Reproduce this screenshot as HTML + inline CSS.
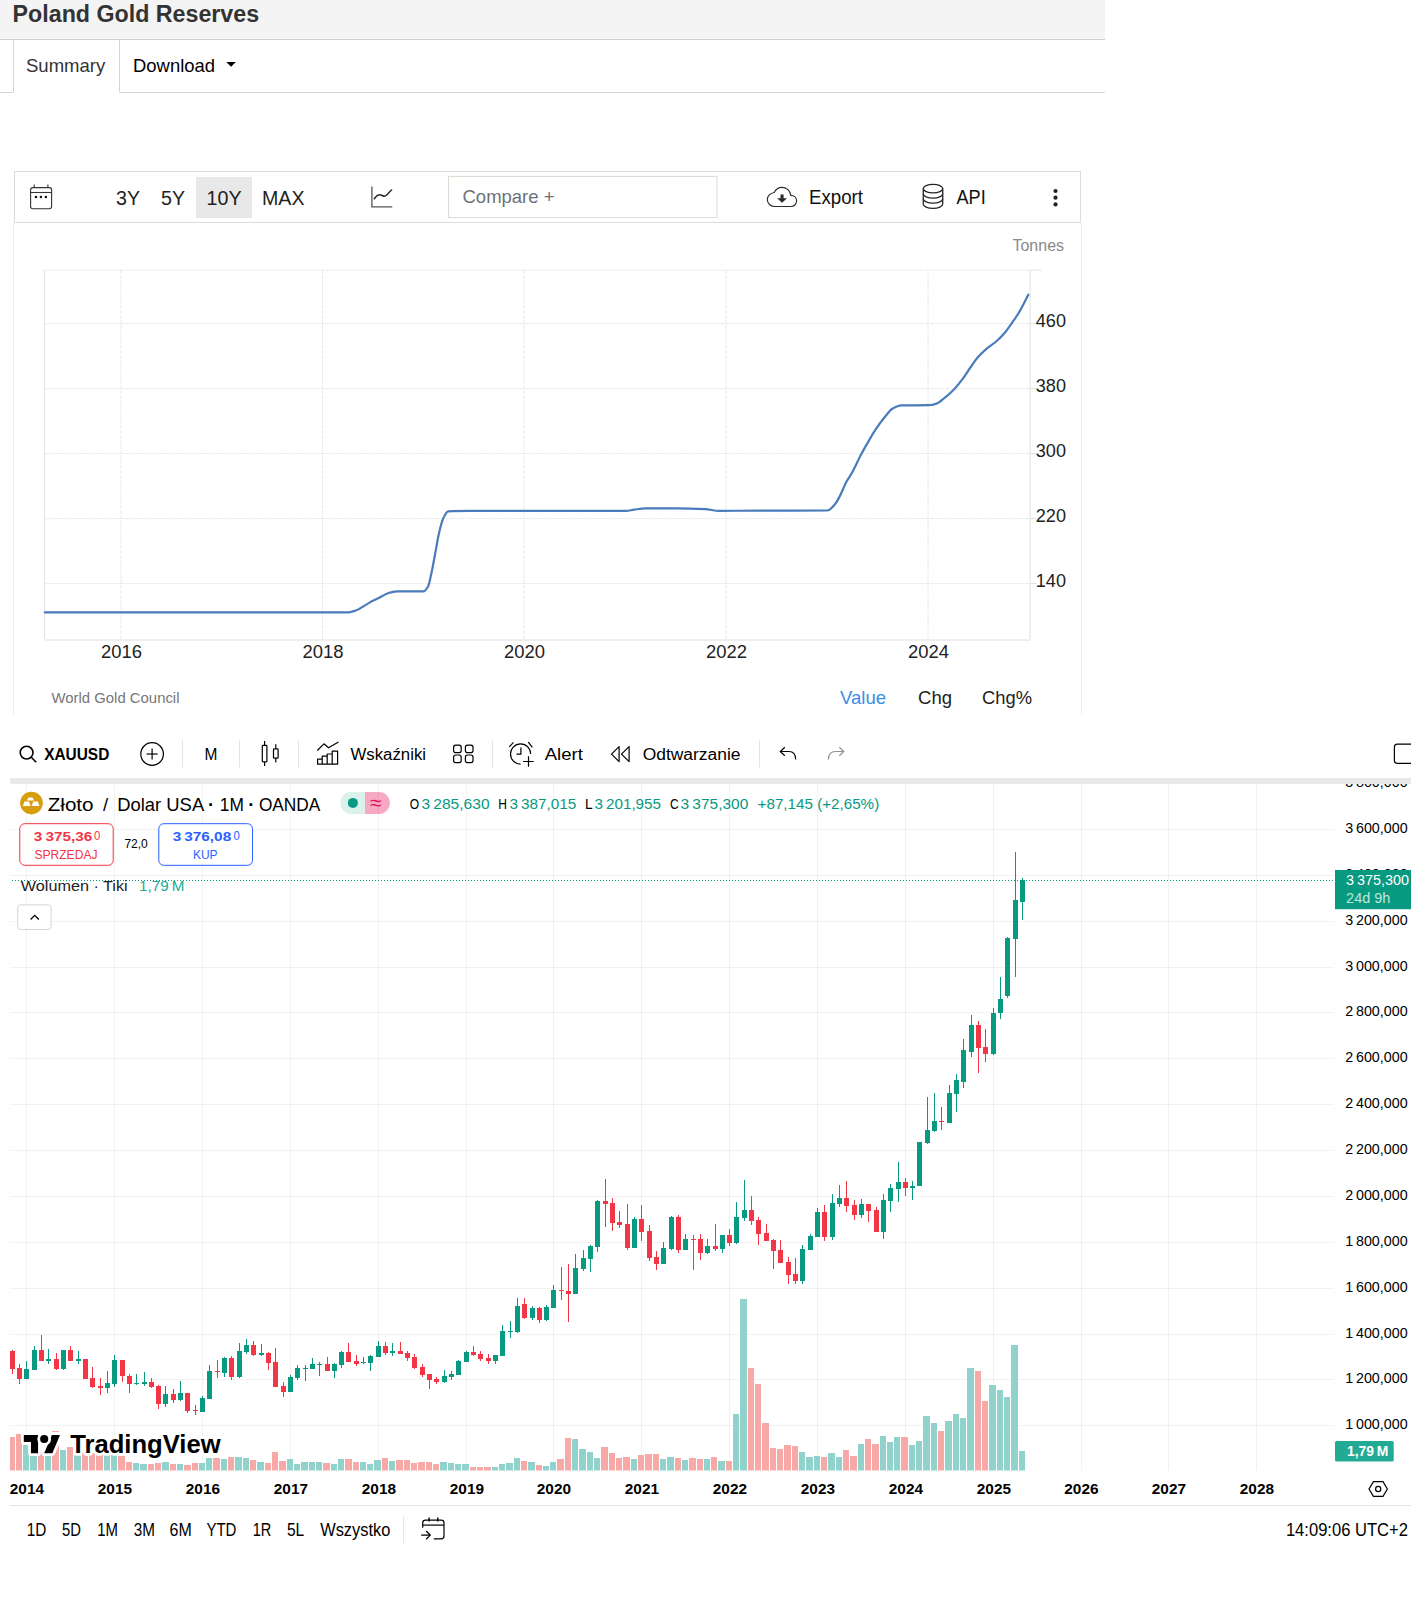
<!DOCTYPE html>
<html><head><meta charset="utf-8"><title>Poland Gold Reserves</title>
<style>html,body{margin:0;padding:0;background:#fff;overflow:hidden}svg{display:block}</style>
</head><body>
<svg width="1411" height="1599" viewBox="0 0 1411 1599">
<rect x="0" y="0" width="1105" height="39.5" fill="#f4f4f4"/>
<line x1="0" y1="39.5" x2="1105" y2="39.5" stroke="#cfcfcf" stroke-width="1"/>
<text x="12.6" y="21.8" font-size="23" fill="#333" font-weight="bold" text-anchor="start" font-family="'Liberation Sans', Arial, sans-serif" textLength="246.5" lengthAdjust="spacingAndGlyphs">Poland Gold Reserves</text>
<line x1="13.5" y1="40" x2="13.5" y2="92" stroke="#d5d5d5" stroke-width="1"/>
<line x1="119.5" y1="40" x2="119.5" y2="92" stroke="#d5d5d5" stroke-width="1"/>
<line x1="0" y1="92.5" x2="13.5" y2="92.5" stroke="#d5d5d5" stroke-width="1"/>
<line x1="119.5" y1="92.5" x2="1105" y2="92.5" stroke="#d5d5d5" stroke-width="1"/>
<text x="26" y="71.7" font-size="18.5" fill="#333" font-weight="normal" text-anchor="start" font-family="'Liberation Sans', Arial, sans-serif" textLength="79.3" lengthAdjust="spacingAndGlyphs">Summary</text>
<text x="133" y="71.9" font-size="18.5" fill="#000" font-weight="normal" text-anchor="start" font-family="'Liberation Sans', Arial, sans-serif" textLength="82" lengthAdjust="spacingAndGlyphs">Download</text>
<path d="M226.3 62 L235.8 62 L231.05 66.8 Z" fill="#000"/>
<rect x="14.5" y="171.5" width="1066" height="51" fill="none" stroke="#dcdcdc" stroke-width="1"/>
<line x1="13.5" y1="223" x2="13.5" y2="714.5" stroke="#ececec" stroke-width="1"/>
<line x1="1081.5" y1="223" x2="1081.5" y2="714.5" stroke="#ececec" stroke-width="1"/>
<g fill="none" stroke="#333" stroke-width="1.1"><rect x="30.6" y="187.6" width="21" height="21.2" rx="2.2"/><line x1="30.6" y1="192.5" x2="51.6" y2="192.5"/><line x1="34.2" y1="184.4" x2="34.2" y2="187.6"/><line x1="47.9" y1="184.4" x2="47.9" y2="187.6"/></g>
<g fill="#111"><circle cx="36" cy="197" r="1.3"/><circle cx="40.9" cy="197" r="1.3"/><circle cx="45.9" cy="197" r="1.3"/></g>
<rect x="196" y="177" width="56" height="41" fill="#e8e8e8"/>
<text x="116" y="205.3" font-size="20" fill="#222" font-weight="normal" text-anchor="start" font-family="'Liberation Sans', Arial, sans-serif" textLength="24" lengthAdjust="spacingAndGlyphs">3Y</text>
<text x="161" y="205.3" font-size="20" fill="#222" font-weight="normal" text-anchor="start" font-family="'Liberation Sans', Arial, sans-serif" textLength="24" lengthAdjust="spacingAndGlyphs">5Y</text>
<text x="206.5" y="205.3" font-size="20" fill="#222" font-weight="normal" text-anchor="start" font-family="'Liberation Sans', Arial, sans-serif" textLength="35" lengthAdjust="spacingAndGlyphs">10Y</text>
<text x="262" y="205.3" font-size="20" fill="#222" font-weight="normal" text-anchor="start" font-family="'Liberation Sans', Arial, sans-serif" textLength="42.5" lengthAdjust="spacingAndGlyphs">MAX</text>
<g fill="none" stroke="#555" stroke-width="1.3"><polyline points="371.9,186.5 371.9,206.8 392.3,206.8"/></g><path d="M374.3 198.8 C375.8 196.2 377.5 194.9 379.6 194.7 C381.6 194.6 382.8 196.4 384.6 196.3 C386.8 196.1 388.6 192.3 391.6 190" fill="none" stroke="#2a2a2a" stroke-width="1.5" stroke-linecap="round"/>
<rect x="448.5" y="176.5" width="268.5" height="41" fill="#fff" stroke="#dedbd5" stroke-width="1"/>
<text x="462.5" y="203" font-size="19" fill="#6c7179" font-weight="normal" text-anchor="start" font-family="'Liberation Sans', Arial, sans-serif" textLength="92" lengthAdjust="spacingAndGlyphs">Compare +</text>
<path d="M775 206.5 H791 C794.3 206.5 796.6 203.8 796.6 200.6 C796.6 197.6 794.2 195.3 790.8 195.3 C790 190.4 786.4 187.3 781.8 187.3 C778.3 187.3 775.7 189.4 774.3 192.5 C770.4 193.1 767.3 196 767.3 199.6 C767.3 203.4 770.6 206.5 775 206.5 Z" fill="none" stroke="#2a2a2a" stroke-width="1.15"/>
<path d="M780.5 194.4 H783.6 V198.3 H787 L782.05 202.8 L777.1 198.3 H780.5 Z" fill="#2a2a2a"/>
<text x="809" y="204.2" font-size="19.5" fill="#111" font-weight="normal" text-anchor="start" font-family="'Liberation Sans', Arial, sans-serif" textLength="54" lengthAdjust="spacingAndGlyphs">Export</text>
<g fill="none" stroke="#262626" stroke-width="1.3"><ellipse cx="933" cy="188.6" rx="9.75" ry="4.3"/><path d="M923.25 188.6 V204 M942.75 188.6 V204"/><path d="M923.25 193.8 A9.75 4.3 0 0 0 942.75 193.8"/><path d="M923.25 198.8 A9.75 4.3 0 0 0 942.75 198.8"/><path d="M923.25 204.0 A9.75 4.3 0 0 0 942.75 204.0"/></g>
<text x="956.5" y="204.2" font-size="19.5" fill="#111" font-weight="normal" text-anchor="start" font-family="'Liberation Sans', Arial, sans-serif" textLength="29.2" lengthAdjust="spacingAndGlyphs">API</text>
<g fill="#222"><circle cx="1055.5" cy="191" r="2.1"/><circle cx="1055.5" cy="197.7" r="2.1"/><circle cx="1055.5" cy="204.4" r="2.1"/></g>
<text x="1064" y="251" font-size="16" fill="#8a8a8a" font-weight="normal" text-anchor="end" font-family="'Liberation Sans', Arial, sans-serif" textLength="51.5" lengthAdjust="spacingAndGlyphs">Tonnes</text>
<line x1="45.3" y1="270.1" x2="1030" y2="270.1" stroke="#e9e9e9" stroke-width="1" stroke-dasharray="4,1"/>
<line x1="45.3" y1="323.6" x2="1030" y2="323.6" stroke="#e9e9e9" stroke-width="1" stroke-dasharray="4,1"/>
<line x1="45.3" y1="388.6" x2="1030" y2="388.6" stroke="#e9e9e9" stroke-width="1" stroke-dasharray="4,1"/>
<line x1="45.3" y1="453.6" x2="1030" y2="453.6" stroke="#e9e9e9" stroke-width="1" stroke-dasharray="4,1"/>
<line x1="45.3" y1="518.6" x2="1030" y2="518.6" stroke="#e9e9e9" stroke-width="1" stroke-dasharray="4,1"/>
<line x1="45.3" y1="583.6" x2="1030" y2="583.6" stroke="#e9e9e9" stroke-width="1" stroke-dasharray="4,1"/>
<line x1="121" y1="270" x2="121" y2="639" stroke="#e8e8e8" stroke-width="1" stroke-dasharray="4,1"/>
<line x1="322.5" y1="270" x2="322.5" y2="639" stroke="#e8e8e8" stroke-width="1" stroke-dasharray="4,1"/>
<line x1="524" y1="270" x2="524" y2="639" stroke="#e8e8e8" stroke-width="1" stroke-dasharray="4,1"/>
<line x1="726" y1="270" x2="726" y2="639" stroke="#e8e8e8" stroke-width="1" stroke-dasharray="4,1"/>
<line x1="928" y1="270" x2="928" y2="639" stroke="#e8e8e8" stroke-width="1" stroke-dasharray="4,1"/>
<line x1="44.5" y1="270" x2="44.5" y2="639" stroke="#e4e4e4" stroke-width="1"/>
<line x1="45" y1="640" x2="1030" y2="640" stroke="#e9e9e9" stroke-width="1.6"/>
<line x1="1030" y1="270" x2="1030" y2="639.5" stroke="#e0e0e0" stroke-width="1"/>
<line x1="1030" y1="270.1" x2="1041.6" y2="270.1" stroke="#e0e0e0" stroke-width="1"/>
<line x1="1030" y1="323.6" x2="1036.5" y2="323.6" stroke="#e0e0e0" stroke-width="1"/>
<line x1="1030" y1="388.6" x2="1036.5" y2="388.6" stroke="#e0e0e0" stroke-width="1"/>
<line x1="1030" y1="453.6" x2="1036.5" y2="453.6" stroke="#e0e0e0" stroke-width="1"/>
<line x1="1030" y1="518.6" x2="1036.5" y2="518.6" stroke="#e0e0e0" stroke-width="1"/>
<line x1="1030" y1="583.6" x2="1036.5" y2="583.6" stroke="#e0e0e0" stroke-width="1"/>
<text x="1035.8" y="326.8" font-size="18.5" fill="#222" font-weight="normal" text-anchor="start" font-family="'Liberation Sans', Arial, sans-serif" textLength="30.2" lengthAdjust="spacingAndGlyphs">460</text>
<text x="1035.8" y="391.8" font-size="18.5" fill="#222" font-weight="normal" text-anchor="start" font-family="'Liberation Sans', Arial, sans-serif" textLength="30.2" lengthAdjust="spacingAndGlyphs">380</text>
<text x="1035.8" y="456.8" font-size="18.5" fill="#222" font-weight="normal" text-anchor="start" font-family="'Liberation Sans', Arial, sans-serif" textLength="30.2" lengthAdjust="spacingAndGlyphs">300</text>
<text x="1035.8" y="521.8000000000001" font-size="18.5" fill="#222" font-weight="normal" text-anchor="start" font-family="'Liberation Sans', Arial, sans-serif" textLength="30.2" lengthAdjust="spacingAndGlyphs">220</text>
<text x="1035.8" y="586.8000000000001" font-size="18.5" fill="#222" font-weight="normal" text-anchor="start" font-family="'Liberation Sans', Arial, sans-serif" textLength="30.2" lengthAdjust="spacingAndGlyphs">140</text>
<text x="121.5" y="658" font-size="18.5" fill="#222" font-weight="normal" text-anchor="middle" font-family="'Liberation Sans', Arial, sans-serif" textLength="41" lengthAdjust="spacingAndGlyphs">2016</text>
<text x="323.0" y="658" font-size="18.5" fill="#222" font-weight="normal" text-anchor="middle" font-family="'Liberation Sans', Arial, sans-serif" textLength="41" lengthAdjust="spacingAndGlyphs">2018</text>
<text x="524.5" y="658" font-size="18.5" fill="#222" font-weight="normal" text-anchor="middle" font-family="'Liberation Sans', Arial, sans-serif" textLength="41" lengthAdjust="spacingAndGlyphs">2020</text>
<text x="726.5" y="658" font-size="18.5" fill="#222" font-weight="normal" text-anchor="middle" font-family="'Liberation Sans', Arial, sans-serif" textLength="41" lengthAdjust="spacingAndGlyphs">2022</text>
<text x="928.5" y="658" font-size="18.5" fill="#222" font-weight="normal" text-anchor="middle" font-family="'Liberation Sans', Arial, sans-serif" textLength="41" lengthAdjust="spacingAndGlyphs">2024</text>
<text x="51.5" y="702.6" font-size="15" fill="#777" font-weight="normal" text-anchor="start" font-family="'Liberation Sans', Arial, sans-serif" textLength="128" lengthAdjust="spacingAndGlyphs">World Gold Council</text>
<text x="840" y="703.6" font-size="19" fill="#3a8ee6" font-weight="normal" text-anchor="start" font-family="'Liberation Sans', Arial, sans-serif" textLength="46" lengthAdjust="spacingAndGlyphs">Value</text>
<text x="918" y="703.6" font-size="19" fill="#222" font-weight="normal" text-anchor="start" font-family="'Liberation Sans', Arial, sans-serif" textLength="34" lengthAdjust="spacingAndGlyphs">Chg</text>
<text x="982" y="703.6" font-size="19" fill="#222" font-weight="normal" text-anchor="start" font-family="'Liberation Sans', Arial, sans-serif" textLength="50" lengthAdjust="spacingAndGlyphs">Chg%</text>
<path d="M44.8,612.3 C146.13,612.30 247.47,612.30 348.8,612.3 C351.13,612.30 353.47,611.30 355.8,610.5 C360.10,609.03 364.40,605.40 368.7,603.1 C371.67,601.51 374.63,600.09 377.6,598.6 C381.57,596.61 385.53,593.64 389.5,592.7 C392.17,592.07 394.83,591.40 397.5,591.4 C406.10,591.40 414.70,591.40 423.3,591.4 C424.93,591.40 426.57,589.07 428.2,586.2 C429.20,584.44 430.20,578.77 431.2,574.3 C432.53,568.34 433.87,560.52 435.2,553.5 C436.50,546.65 437.80,538.18 439.1,532.7 C440.43,527.08 441.77,521.64 443.1,518.8 C444.77,515.26 446.43,511.38 448.1,511.3 C455.37,510.97 462.63,510.90 469.9,510.9 C521.93,510.90 573.97,510.90 626,510.9 C628.67,510.90 631.33,510.05 634,509.7 C637.80,509.20 641.60,508.43 645.4,508.4 C655.93,508.32 666.47,508.30 677,508.3 C686.47,508.30 695.93,508.69 705.4,509.2 C709.93,509.45 714.47,510.90 719,510.9 C732.67,510.90 746.33,510.64 760,510.6 C782.47,510.54 804.93,510.59 827.4,510.5 C830.20,510.49 833.00,506.50 835.8,503.1 C837.13,501.48 838.47,498.73 839.8,496.2 C842.10,491.83 844.40,485.49 846.7,481.3 C848.37,478.26 850.03,476.23 851.7,473.3 C855.00,467.50 858.30,459.66 861.6,453.5 C864.23,448.58 866.87,444.08 869.5,439.6 C871.50,436.20 873.50,432.70 875.5,429.7 C878.80,424.75 882.10,420.25 885.4,416.3 C887.70,413.54 890.00,410.12 892.3,408.8 C895.30,407.08 898.30,405.45 901.3,405.4 C910.53,405.24 919.77,405.36 929,405.2 C931.50,405.16 934.00,404.41 936.5,403.6 C939.20,402.72 941.90,400.04 944.6,397.9 C947.87,395.31 951.13,392.31 954.4,388.9 C957.10,386.08 959.80,382.78 962.5,379.2 C965.23,375.57 967.97,370.92 970.7,367 C972.87,363.90 975.03,360.53 977.2,358 C979.90,354.85 982.60,352.28 985.3,349.9 C989.10,346.54 992.90,344.37 996.7,341 C999.40,338.60 1002.10,335.96 1004.8,332.8 C1006.97,330.26 1009.13,327.00 1011.3,323.9 C1014.00,320.03 1016.70,316.23 1019.4,311.7 C1022.40,306.67 1025.40,300.30 1028.4,294.6" fill="none" stroke="#4a7bbb" stroke-width="2.2" stroke-linejoin="round" stroke-linecap="round"/>
<g fill="none" stroke="#000000" stroke-width="1.6"><circle cx="26.6" cy="752.6" r="6.4"/><line x1="31.3" y1="757.3" x2="36.2" y2="762.2"/></g>
<text x="44.2" y="759.6" font-size="16.5" fill="#000000" font-weight="bold" text-anchor="start" font-family="'Liberation Sans', Arial, sans-serif" textLength="65.1" lengthAdjust="spacingAndGlyphs">XAUUSD</text>
<g fill="none" stroke="#000000" stroke-width="1.2"><circle cx="152.1" cy="754" r="11.3"/><line x1="146.6" y1="754" x2="157.6" y2="754"/><line x1="152.1" y1="748.5" x2="152.1" y2="759.5"/></g>
<line x1="182.5" y1="740.5" x2="182.5" y2="767.5" stroke="#e0e3eb" stroke-width="1"/>
<line x1="239.5" y1="740.5" x2="239.5" y2="767.5" stroke="#e0e3eb" stroke-width="1"/>
<line x1="298.5" y1="740.5" x2="298.5" y2="767.5" stroke="#e0e3eb" stroke-width="1"/>
<line x1="492.5" y1="740.5" x2="492.5" y2="767.5" stroke="#e0e3eb" stroke-width="1"/>
<line x1="759.5" y1="740.5" x2="759.5" y2="767.5" stroke="#e0e3eb" stroke-width="1"/>
<text x="204.6" y="760" font-size="16.5" fill="#000000" font-weight="normal" text-anchor="start" font-family="'Liberation Sans', Arial, sans-serif" textLength="12.9" lengthAdjust="spacingAndGlyphs">M</text>
<g fill="none" stroke="#000000" stroke-width="1.2"><rect x="262.3" y="745.3" width="4.6" height="16.6" rx="0.8"/><line x1="264.6" y1="741" x2="264.6" y2="745.3"/><line x1="264.6" y1="761.9" x2="264.6" y2="766"/><rect x="273.5" y="748.8" width="4.6" height="9.4" rx="0.8"/><line x1="275.8" y1="744.2" x2="275.8" y2="748.8"/><line x1="275.8" y1="758.2" x2="275.8" y2="762.5"/></g>
<g fill="none" stroke="#000000" stroke-width="1.2" stroke-linejoin="round"><polyline points="317.3,750.5 324,743.8 328.5,747.8 338.5,742"/><path d="M317.6 764.2 V759.2 H322.2 V764.2 Z M322.2 764.2 V756.2 H327.2 V764.2 M327.2 764.2 V754 H332.2 V764.2 M332.2 764.2 V751.2 H337.6 V764.2 H317.6"/></g>
<text x="350.5" y="760" font-size="16" fill="#000000" font-weight="normal" text-anchor="start" font-family="'Liberation Sans', Arial, sans-serif" textLength="75.5" lengthAdjust="spacingAndGlyphs">Wskaźniki</text>
<g fill="none" stroke="#000000" stroke-width="1.2"><rect x="453.6" y="745.1" width="7.6" height="7.6" rx="2.2"/><rect x="465.4" y="745.1" width="7.6" height="7.6" rx="2.2"/><rect x="453.6" y="755" width="7.6" height="7.6" rx="2.2"/><rect x="465.4" y="755" width="7.6" height="7.6" rx="2.2"/></g>
<g fill="none" stroke="#000000" stroke-width="1.2"><path d="M520.6 764.1 A10.1 10.1 0 1 1 530.7 754"/><path d="M520.9 747.4 V754.2 H516.5"/><path d="M509.3 746.9 L513.5 742.3"/><path d="M528.3 742.1 L532.4 747.3"/><path d="M528.5 756.3 V766.8 M523 761.5 H533.6"/></g>
<text x="544.7" y="760" font-size="16" fill="#000000" font-weight="normal" text-anchor="start" font-family="'Liberation Sans', Arial, sans-serif" textLength="38.2" lengthAdjust="spacingAndGlyphs">Alert</text>
<g fill="none" stroke="#000000" stroke-width="1.2" stroke-linejoin="round"><path d="M619.1 746.6 L611.5 754.1 L619.1 761.6 Z"/><path d="M629.1 746.6 L621.5 754.1 L629.1 761.6 Z"/></g>
<text x="642.7" y="760" font-size="16" fill="#000000" font-weight="normal" text-anchor="start" font-family="'Liberation Sans', Arial, sans-serif" textLength="97.8" lengthAdjust="spacingAndGlyphs">Odtwarzanie</text>
<g fill="none" stroke="#000000" stroke-width="1.2"><path d="M784.8 747.2 L780.3 751.5 L784.8 755.8"/><path d="M780.3 751.5 H789 C793 751.5 795.7 754.2 795.7 759.6"/></g>
<g fill="none" stroke="#8f9299" stroke-width="1.2"><path d="M839.3 747.2 L843.8 751.5 L839.3 755.8"/><path d="M843.8 751.5 H835.5 C831.3 751.5 828.4 754.2 828.4 759.6"/></g>
<rect x="1394.4" y="744.2" width="24" height="19.2" rx="3" fill="none" stroke="#000000" stroke-width="1.2"/>
<rect x="10" y="778" width="1401" height="6" fill="#e9e9e9"/>
<defs><clipPath id="pane"><rect x="10" y="784" width="1324" height="686.5"/></clipPath><clipPath id="axis"><rect x="1334" y="784" width="80" height="686.5"/></clipPath></defs>
<g clip-path="url(#pane)">
<line x1="10" y1="1425.5" x2="1334" y2="1425.5" stroke="rgba(0,0,0,0.052)" stroke-width="1"/>
<line x1="10" y1="1379.5" x2="1334" y2="1379.5" stroke="rgba(0,0,0,0.052)" stroke-width="1"/>
<line x1="10" y1="1334.5" x2="1334" y2="1334.5" stroke="rgba(0,0,0,0.052)" stroke-width="1"/>
<line x1="10" y1="1288.5" x2="1334" y2="1288.5" stroke="rgba(0,0,0,0.052)" stroke-width="1"/>
<line x1="10" y1="1242.5" x2="1334" y2="1242.5" stroke="rgba(0,0,0,0.052)" stroke-width="1"/>
<line x1="10" y1="1196.5" x2="1334" y2="1196.5" stroke="rgba(0,0,0,0.052)" stroke-width="1"/>
<line x1="10" y1="1150.5" x2="1334" y2="1150.5" stroke="rgba(0,0,0,0.052)" stroke-width="1"/>
<line x1="10" y1="1104.5" x2="1334" y2="1104.5" stroke="rgba(0,0,0,0.052)" stroke-width="1"/>
<line x1="10" y1="1058.5" x2="1334" y2="1058.5" stroke="rgba(0,0,0,0.052)" stroke-width="1"/>
<line x1="10" y1="1012.5" x2="1334" y2="1012.5" stroke="rgba(0,0,0,0.052)" stroke-width="1"/>
<line x1="10" y1="967.5" x2="1334" y2="967.5" stroke="rgba(0,0,0,0.052)" stroke-width="1"/>
<line x1="10" y1="921.5" x2="1334" y2="921.5" stroke="rgba(0,0,0,0.052)" stroke-width="1"/>
<line x1="10" y1="875.5" x2="1334" y2="875.5" stroke="rgba(0,0,0,0.052)" stroke-width="1"/>
<line x1="10" y1="829.5" x2="1334" y2="829.5" stroke="rgba(0,0,0,0.052)" stroke-width="1"/>
<line x1="10" y1="783.5" x2="1334" y2="783.5" stroke="rgba(0,0,0,0.052)" stroke-width="1"/>
<line x1="26.5" y1="783" x2="26.5" y2="1470.5" stroke="rgba(0,0,0,0.052)" stroke-width="1"/>
<line x1="114.5" y1="783" x2="114.5" y2="1470.5" stroke="rgba(0,0,0,0.052)" stroke-width="1"/>
<line x1="202.5" y1="783" x2="202.5" y2="1470.5" stroke="rgba(0,0,0,0.052)" stroke-width="1"/>
<line x1="290.5" y1="783" x2="290.5" y2="1470.5" stroke="rgba(0,0,0,0.052)" stroke-width="1"/>
<line x1="378.5" y1="783" x2="378.5" y2="1470.5" stroke="rgba(0,0,0,0.052)" stroke-width="1"/>
<line x1="466.5" y1="783" x2="466.5" y2="1470.5" stroke="rgba(0,0,0,0.052)" stroke-width="1"/>
<line x1="553.5" y1="783" x2="553.5" y2="1470.5" stroke="rgba(0,0,0,0.052)" stroke-width="1"/>
<line x1="641.5" y1="783" x2="641.5" y2="1470.5" stroke="rgba(0,0,0,0.052)" stroke-width="1"/>
<line x1="729.5" y1="783" x2="729.5" y2="1470.5" stroke="rgba(0,0,0,0.052)" stroke-width="1"/>
<line x1="817.5" y1="783" x2="817.5" y2="1470.5" stroke="rgba(0,0,0,0.052)" stroke-width="1"/>
<line x1="905.5" y1="783" x2="905.5" y2="1470.5" stroke="rgba(0,0,0,0.052)" stroke-width="1"/>
<line x1="993.5" y1="783" x2="993.5" y2="1470.5" stroke="rgba(0,0,0,0.052)" stroke-width="1"/>
<line x1="1081.5" y1="783" x2="1081.5" y2="1470.5" stroke="rgba(0,0,0,0.052)" stroke-width="1"/>
<line x1="1168.5" y1="783" x2="1168.5" y2="1470.5" stroke="rgba(0,0,0,0.052)" stroke-width="1"/>
<line x1="1256.5" y1="783" x2="1256.5" y2="1470.5" stroke="rgba(0,0,0,0.052)" stroke-width="1"/>
<rect x="9" y="1437" width="6" height="34" fill="#f7a9a7"/>
<rect x="16" y="1434" width="6" height="37" fill="#f7a9a7"/>
<rect x="23" y="1445" width="6" height="26" fill="#92d2cc"/>
<rect x="30" y="1445" width="7" height="26" fill="#92d2cc"/>
<rect x="38" y="1452" width="6" height="19" fill="#f7a9a7"/>
<rect x="45" y="1452" width="6" height="19" fill="#92d2cc"/>
<rect x="52" y="1431" width="7" height="40" fill="#f7a9a7"/>
<rect x="60" y="1450" width="6" height="21" fill="#92d2cc"/>
<rect x="67" y="1447" width="6" height="24" fill="#f7a9a7"/>
<rect x="74" y="1453" width="7" height="18" fill="#92d2cc"/>
<rect x="82" y="1452" width="6" height="19" fill="#f7a9a7"/>
<rect x="89" y="1453" width="6" height="18" fill="#f7a9a7"/>
<rect x="96" y="1455" width="7" height="16" fill="#f7a9a7"/>
<rect x="104" y="1454" width="6" height="17" fill="#92d2cc"/>
<rect x="111" y="1455" width="6" height="16" fill="#92d2cc"/>
<rect x="118" y="1456" width="7" height="15" fill="#f7a9a7"/>
<rect x="126" y="1462" width="6" height="9" fill="#f7a9a7"/>
<rect x="133" y="1463" width="6" height="8" fill="#92d2cc"/>
<rect x="140" y="1464" width="7" height="7" fill="#92d2cc"/>
<rect x="148" y="1464" width="6" height="7" fill="#f7a9a7"/>
<rect x="155" y="1463" width="6" height="8" fill="#f7a9a7"/>
<rect x="162" y="1462" width="7" height="9" fill="#92d2cc"/>
<rect x="170" y="1464" width="6" height="7" fill="#f7a9a7"/>
<rect x="177" y="1464" width="6" height="7" fill="#92d2cc"/>
<rect x="184" y="1465" width="7" height="6" fill="#f7a9a7"/>
<rect x="192" y="1463" width="6" height="8" fill="#f7a9a7"/>
<rect x="199" y="1463" width="6" height="8" fill="#92d2cc"/>
<rect x="206" y="1458" width="6" height="13" fill="#92d2cc"/>
<rect x="213" y="1458" width="7" height="13" fill="#f7a9a7"/>
<rect x="221" y="1459" width="6" height="12" fill="#92d2cc"/>
<rect x="228" y="1457" width="6" height="14" fill="#f7a9a7"/>
<rect x="235" y="1457" width="7" height="14" fill="#92d2cc"/>
<rect x="243" y="1458" width="6" height="13" fill="#92d2cc"/>
<rect x="250" y="1460" width="6" height="11" fill="#f7a9a7"/>
<rect x="257" y="1462" width="7" height="9" fill="#92d2cc"/>
<rect x="265" y="1463" width="6" height="8" fill="#f7a9a7"/>
<rect x="272" y="1452" width="6" height="19" fill="#f7a9a7"/>
<rect x="279" y="1461" width="7" height="10" fill="#f7a9a7"/>
<rect x="287" y="1459" width="6" height="12" fill="#92d2cc"/>
<rect x="294" y="1464" width="6" height="7" fill="#92d2cc"/>
<rect x="301" y="1462" width="7" height="9" fill="#92d2cc"/>
<rect x="309" y="1462" width="6" height="9" fill="#92d2cc"/>
<rect x="316" y="1462" width="6" height="9" fill="#92d2cc"/>
<rect x="323" y="1463" width="7" height="8" fill="#f7a9a7"/>
<rect x="331" y="1464" width="6" height="7" fill="#92d2cc"/>
<rect x="338" y="1459" width="6" height="12" fill="#92d2cc"/>
<rect x="345" y="1459" width="7" height="12" fill="#f7a9a7"/>
<rect x="353" y="1462" width="6" height="9" fill="#f7a9a7"/>
<rect x="360" y="1462" width="6" height="9" fill="#92d2cc"/>
<rect x="367" y="1464" width="6" height="7" fill="#92d2cc"/>
<rect x="374" y="1460" width="7" height="11" fill="#92d2cc"/>
<rect x="382" y="1458" width="6" height="13" fill="#f7a9a7"/>
<rect x="389" y="1461" width="6" height="10" fill="#92d2cc"/>
<rect x="396" y="1460" width="7" height="11" fill="#f7a9a7"/>
<rect x="404" y="1460" width="6" height="11" fill="#f7a9a7"/>
<rect x="411" y="1463" width="6" height="8" fill="#f7a9a7"/>
<rect x="418" y="1462" width="7" height="9" fill="#f7a9a7"/>
<rect x="426" y="1462" width="6" height="9" fill="#f7a9a7"/>
<rect x="433" y="1464" width="6" height="7" fill="#f7a9a7"/>
<rect x="440" y="1462" width="7" height="9" fill="#92d2cc"/>
<rect x="448" y="1463" width="6" height="8" fill="#92d2cc"/>
<rect x="455" y="1464" width="6" height="7" fill="#92d2cc"/>
<rect x="462" y="1464" width="7" height="7" fill="#92d2cc"/>
<rect x="470" y="1467" width="6" height="4" fill="#f7a9a7"/>
<rect x="477" y="1467" width="6" height="4" fill="#f7a9a7"/>
<rect x="484" y="1467" width="7" height="4" fill="#f7a9a7"/>
<rect x="492" y="1467" width="6" height="4" fill="#92d2cc"/>
<rect x="499" y="1464" width="6" height="7" fill="#92d2cc"/>
<rect x="506" y="1463" width="7" height="8" fill="#92d2cc"/>
<rect x="514" y="1458" width="6" height="13" fill="#92d2cc"/>
<rect x="521" y="1461" width="6" height="10" fill="#f7a9a7"/>
<rect x="528" y="1462" width="7" height="9" fill="#92d2cc"/>
<rect x="536" y="1465" width="6" height="6" fill="#f7a9a7"/>
<rect x="543" y="1466" width="6" height="5" fill="#92d2cc"/>
<rect x="550" y="1462" width="6" height="9" fill="#92d2cc"/>
<rect x="557" y="1459" width="7" height="12" fill="#f7a9a7"/>
<rect x="565" y="1438" width="6" height="33" fill="#f7a9a7"/>
<rect x="572" y="1439" width="6" height="32" fill="#92d2cc"/>
<rect x="579" y="1449" width="7" height="22" fill="#92d2cc"/>
<rect x="587" y="1452" width="6" height="19" fill="#92d2cc"/>
<rect x="594" y="1458" width="6" height="13" fill="#92d2cc"/>
<rect x="601" y="1447" width="7" height="24" fill="#f7a9a7"/>
<rect x="609" y="1453" width="6" height="18" fill="#f7a9a7"/>
<rect x="616" y="1458" width="6" height="13" fill="#f7a9a7"/>
<rect x="623" y="1457" width="7" height="14" fill="#f7a9a7"/>
<rect x="631" y="1459" width="6" height="12" fill="#92d2cc"/>
<rect x="638" y="1455" width="6" height="16" fill="#f7a9a7"/>
<rect x="645" y="1454" width="7" height="17" fill="#f7a9a7"/>
<rect x="653" y="1454" width="6" height="17" fill="#f7a9a7"/>
<rect x="660" y="1459" width="6" height="12" fill="#92d2cc"/>
<rect x="667" y="1457" width="7" height="14" fill="#92d2cc"/>
<rect x="675" y="1458" width="6" height="13" fill="#f7a9a7"/>
<rect x="682" y="1460" width="6" height="11" fill="#92d2cc"/>
<rect x="689" y="1458" width="7" height="13" fill="#f7a9a7"/>
<rect x="697" y="1459" width="6" height="12" fill="#f7a9a7"/>
<rect x="704" y="1459" width="6" height="12" fill="#92d2cc"/>
<rect x="711" y="1457" width="6" height="14" fill="#f7a9a7"/>
<rect x="718" y="1461" width="7" height="10" fill="#92d2cc"/>
<rect x="726" y="1461" width="6" height="10" fill="#f7a9a7"/>
<rect x="733" y="1414" width="6" height="57" fill="#92d2cc"/>
<rect x="740" y="1299" width="7" height="172" fill="#92d2cc"/>
<rect x="748" y="1368" width="6" height="103" fill="#f7a9a7"/>
<rect x="755" y="1384" width="6" height="87" fill="#f7a9a7"/>
<rect x="762" y="1423" width="7" height="48" fill="#f7a9a7"/>
<rect x="770" y="1448" width="6" height="23" fill="#f7a9a7"/>
<rect x="777" y="1449" width="6" height="22" fill="#f7a9a7"/>
<rect x="784" y="1445" width="7" height="26" fill="#f7a9a7"/>
<rect x="792" y="1446" width="6" height="25" fill="#f7a9a7"/>
<rect x="799" y="1452" width="6" height="19" fill="#92d2cc"/>
<rect x="806" y="1457" width="7" height="14" fill="#92d2cc"/>
<rect x="814" y="1456" width="6" height="15" fill="#92d2cc"/>
<rect x="821" y="1457" width="6" height="14" fill="#f7a9a7"/>
<rect x="828" y="1453" width="7" height="18" fill="#92d2cc"/>
<rect x="836" y="1457" width="6" height="14" fill="#92d2cc"/>
<rect x="843" y="1450" width="6" height="21" fill="#f7a9a7"/>
<rect x="850" y="1456" width="7" height="15" fill="#f7a9a7"/>
<rect x="858" y="1444" width="6" height="27" fill="#92d2cc"/>
<rect x="865" y="1439" width="6" height="32" fill="#f7a9a7"/>
<rect x="872" y="1444" width="7" height="27" fill="#f7a9a7"/>
<rect x="880" y="1436" width="6" height="35" fill="#92d2cc"/>
<rect x="887" y="1442" width="6" height="29" fill="#92d2cc"/>
<rect x="894" y="1437" width="6" height="34" fill="#92d2cc"/>
<rect x="901" y="1437" width="7" height="34" fill="#f7a9a7"/>
<rect x="909" y="1445" width="6" height="26" fill="#92d2cc"/>
<rect x="916" y="1441" width="6" height="30" fill="#92d2cc"/>
<rect x="923" y="1416" width="7" height="55" fill="#92d2cc"/>
<rect x="931" y="1423" width="6" height="48" fill="#92d2cc"/>
<rect x="938" y="1431" width="6" height="40" fill="#f7a9a7"/>
<rect x="945" y="1421" width="7" height="50" fill="#92d2cc"/>
<rect x="953" y="1414" width="6" height="57" fill="#92d2cc"/>
<rect x="960" y="1418" width="6" height="53" fill="#92d2cc"/>
<rect x="967" y="1368" width="7" height="103" fill="#92d2cc"/>
<rect x="975" y="1371" width="6" height="100" fill="#f7a9a7"/>
<rect x="982" y="1401" width="6" height="70" fill="#f7a9a7"/>
<rect x="989" y="1385" width="7" height="86" fill="#92d2cc"/>
<rect x="997" y="1390" width="6" height="81" fill="#92d2cc"/>
<rect x="1004" y="1397" width="6" height="74" fill="#92d2cc"/>
<rect x="1011" y="1345" width="7" height="126" fill="#92d2cc"/>
<rect x="1019" y="1451" width="6" height="20" fill="#92d2cc"/>
<rect x="12" y="1350" width="1" height="24" fill="#f23645"/>
<rect x="10" y="1351" width="5" height="18" fill="#f23645"/>
<rect x="19" y="1364" width="1" height="20" fill="#f23645"/>
<rect x="17" y="1368" width="5" height="11" fill="#f23645"/>
<rect x="26" y="1361" width="1" height="18" fill="#089981"/>
<rect x="24" y="1369" width="5" height="10" fill="#089981"/>
<rect x="34" y="1346" width="1" height="24" fill="#089981"/>
<rect x="32" y="1350" width="5" height="20" fill="#089981"/>
<rect x="41" y="1335" width="1" height="26" fill="#f23645"/>
<rect x="39" y="1350" width="5" height="11" fill="#f23645"/>
<rect x="48" y="1349" width="1" height="15" fill="#089981"/>
<rect x="46" y="1359" width="5" height="2" fill="#089981"/>
<rect x="56" y="1353" width="1" height="17" fill="#f23645"/>
<rect x="54" y="1359" width="5" height="10" fill="#f23645"/>
<rect x="63" y="1350" width="1" height="20" fill="#089981"/>
<rect x="61" y="1350" width="5" height="19" fill="#089981"/>
<rect x="70" y="1346" width="1" height="15" fill="#f23645"/>
<rect x="68" y="1350" width="5" height="11" fill="#f23645"/>
<rect x="78" y="1351" width="1" height="13" fill="#089981"/>
<rect x="76" y="1359" width="5" height="2" fill="#089981"/>
<rect x="85" y="1359" width="1" height="20" fill="#f23645"/>
<rect x="83" y="1359" width="5" height="20" fill="#f23645"/>
<rect x="92" y="1367" width="1" height="21" fill="#f23645"/>
<rect x="90" y="1378" width="5" height="9" fill="#f23645"/>
<rect x="100" y="1378" width="1" height="17" fill="#f23645"/>
<rect x="98" y="1386" width="5" height="2" fill="#f23645"/>
<rect x="107" y="1371" width="1" height="22" fill="#089981"/>
<rect x="105" y="1383" width="5" height="5" fill="#089981"/>
<rect x="114" y="1355" width="1" height="32" fill="#089981"/>
<rect x="112" y="1360" width="5" height="24" fill="#089981"/>
<rect x="122" y="1360" width="1" height="22" fill="#f23645"/>
<rect x="120" y="1360" width="5" height="16" fill="#f23645"/>
<rect x="129" y="1374" width="1" height="19" fill="#f23645"/>
<rect x="127" y="1376" width="5" height="8" fill="#f23645"/>
<rect x="136" y="1374" width="1" height="11" fill="#089981"/>
<rect x="134" y="1383" width="5" height="1" fill="#089981"/>
<rect x="144" y="1372" width="1" height="14" fill="#089981"/>
<rect x="142" y="1382" width="5" height="2" fill="#089981"/>
<rect x="151" y="1378" width="1" height="10" fill="#f23645"/>
<rect x="149" y="1382" width="5" height="5" fill="#f23645"/>
<rect x="158" y="1385" width="1" height="24" fill="#f23645"/>
<rect x="156" y="1386" width="5" height="18" fill="#f23645"/>
<rect x="165" y="1386" width="1" height="21" fill="#089981"/>
<rect x="163" y="1394" width="5" height="10" fill="#089981"/>
<rect x="173" y="1389" width="1" height="14" fill="#f23645"/>
<rect x="171" y="1394" width="5" height="6" fill="#f23645"/>
<rect x="180" y="1381" width="1" height="20" fill="#089981"/>
<rect x="178" y="1393" width="5" height="7" fill="#089981"/>
<rect x="187" y="1393" width="1" height="20" fill="#f23645"/>
<rect x="185" y="1393" width="5" height="18" fill="#f23645"/>
<rect x="195" y="1405" width="1" height="10" fill="#f23645"/>
<rect x="193" y="1410" width="5" height="1" fill="#f23645"/>
<rect x="202" y="1396" width="1" height="16" fill="#089981"/>
<rect x="200" y="1398" width="5" height="14" fill="#089981"/>
<rect x="209" y="1365" width="1" height="34" fill="#089981"/>
<rect x="207" y="1371" width="5" height="28" fill="#089981"/>
<rect x="217" y="1360" width="1" height="18" fill="#f23645"/>
<rect x="215" y="1371" width="5" height="1" fill="#f23645"/>
<rect x="224" y="1357" width="1" height="20" fill="#089981"/>
<rect x="222" y="1358" width="5" height="15" fill="#089981"/>
<rect x="231" y="1356" width="1" height="24" fill="#f23645"/>
<rect x="229" y="1358" width="5" height="19" fill="#f23645"/>
<rect x="239" y="1343" width="1" height="35" fill="#089981"/>
<rect x="237" y="1351" width="5" height="26" fill="#089981"/>
<rect x="246" y="1339" width="1" height="15" fill="#089981"/>
<rect x="244" y="1345" width="5" height="7" fill="#089981"/>
<rect x="253" y="1341" width="1" height="15" fill="#f23645"/>
<rect x="251" y="1345" width="5" height="10" fill="#f23645"/>
<rect x="261" y="1344" width="1" height="12" fill="#089981"/>
<rect x="259" y="1353" width="5" height="2" fill="#089981"/>
<rect x="268" y="1352" width="1" height="18" fill="#f23645"/>
<rect x="266" y="1353" width="5" height="10" fill="#f23645"/>
<rect x="275" y="1348" width="1" height="39" fill="#f23645"/>
<rect x="273" y="1362" width="5" height="25" fill="#f23645"/>
<rect x="283" y="1382" width="1" height="15" fill="#f23645"/>
<rect x="281" y="1386" width="5" height="6" fill="#f23645"/>
<rect x="290" y="1375" width="1" height="17" fill="#089981"/>
<rect x="288" y="1377" width="5" height="15" fill="#089981"/>
<rect x="297" y="1365" width="1" height="15" fill="#089981"/>
<rect x="295" y="1368" width="5" height="10" fill="#089981"/>
<rect x="305" y="1365" width="1" height="16" fill="#089981"/>
<rect x="303" y="1368" width="5" height="1" fill="#089981"/>
<rect x="312" y="1358" width="1" height="11" fill="#089981"/>
<rect x="310" y="1364" width="5" height="5" fill="#089981"/>
<rect x="319" y="1362" width="1" height="14" fill="#089981"/>
<rect x="317" y="1364" width="5" height="1" fill="#089981"/>
<rect x="327" y="1357" width="1" height="14" fill="#f23645"/>
<rect x="325" y="1364" width="5" height="7" fill="#f23645"/>
<rect x="334" y="1363" width="1" height="15" fill="#089981"/>
<rect x="332" y="1364" width="5" height="7" fill="#089981"/>
<rect x="341" y="1351" width="1" height="17" fill="#089981"/>
<rect x="339" y="1352" width="5" height="13" fill="#089981"/>
<rect x="348" y="1343" width="1" height="19" fill="#f23645"/>
<rect x="346" y="1352" width="5" height="10" fill="#f23645"/>
<rect x="356" y="1355" width="1" height="11" fill="#f23645"/>
<rect x="354" y="1361" width="5" height="3" fill="#f23645"/>
<rect x="363" y="1357" width="1" height="7" fill="#089981"/>
<rect x="361" y="1362" width="5" height="1" fill="#089981"/>
<rect x="370" y="1355" width="1" height="16" fill="#089981"/>
<rect x="368" y="1356" width="5" height="7" fill="#089981"/>
<rect x="378" y="1341" width="1" height="16" fill="#089981"/>
<rect x="376" y="1346" width="5" height="11" fill="#089981"/>
<rect x="385" y="1342" width="1" height="13" fill="#f23645"/>
<rect x="383" y="1346" width="5" height="7" fill="#f23645"/>
<rect x="392" y="1343" width="1" height="13" fill="#089981"/>
<rect x="390" y="1351" width="5" height="2" fill="#089981"/>
<rect x="400" y="1342" width="1" height="12" fill="#f23645"/>
<rect x="398" y="1351" width="5" height="3" fill="#f23645"/>
<rect x="407" y="1351" width="1" height="10" fill="#f23645"/>
<rect x="405" y="1353" width="5" height="5" fill="#f23645"/>
<rect x="414" y="1354" width="1" height="15" fill="#f23645"/>
<rect x="412" y="1357" width="5" height="11" fill="#f23645"/>
<rect x="422" y="1364" width="1" height="13" fill="#f23645"/>
<rect x="420" y="1367" width="5" height="8" fill="#f23645"/>
<rect x="429" y="1374" width="1" height="15" fill="#f23645"/>
<rect x="427" y="1374" width="5" height="6" fill="#f23645"/>
<rect x="436" y="1377" width="1" height="7" fill="#f23645"/>
<rect x="434" y="1379" width="5" height="3" fill="#f23645"/>
<rect x="444" y="1370" width="1" height="13" fill="#089981"/>
<rect x="442" y="1376" width="5" height="6" fill="#089981"/>
<rect x="451" y="1371" width="1" height="9" fill="#089981"/>
<rect x="449" y="1374" width="5" height="3" fill="#089981"/>
<rect x="458" y="1360" width="1" height="15" fill="#089981"/>
<rect x="456" y="1361" width="5" height="14" fill="#089981"/>
<rect x="466" y="1351" width="1" height="11" fill="#089981"/>
<rect x="464" y="1352" width="5" height="10" fill="#089981"/>
<rect x="473" y="1346" width="1" height="10" fill="#f23645"/>
<rect x="471" y="1352" width="5" height="3" fill="#f23645"/>
<rect x="480" y="1351" width="1" height="10" fill="#f23645"/>
<rect x="478" y="1354" width="5" height="5" fill="#f23645"/>
<rect x="488" y="1354" width="1" height="10" fill="#f23645"/>
<rect x="486" y="1358" width="5" height="3" fill="#f23645"/>
<rect x="495" y="1355" width="1" height="9" fill="#089981"/>
<rect x="493" y="1355" width="5" height="6" fill="#089981"/>
<rect x="502" y="1325" width="1" height="31" fill="#089981"/>
<rect x="500" y="1331" width="5" height="25" fill="#089981"/>
<rect x="510" y="1321" width="1" height="17" fill="#089981"/>
<rect x="508" y="1331" width="5" height="1" fill="#089981"/>
<rect x="517" y="1298" width="1" height="35" fill="#089981"/>
<rect x="515" y="1306" width="5" height="26" fill="#089981"/>
<rect x="524" y="1298" width="1" height="21" fill="#f23645"/>
<rect x="522" y="1304" width="5" height="14" fill="#f23645"/>
<rect x="532" y="1306" width="1" height="14" fill="#089981"/>
<rect x="530" y="1308" width="5" height="10" fill="#089981"/>
<rect x="539" y="1307" width="1" height="16" fill="#f23645"/>
<rect x="537" y="1308" width="5" height="12" fill="#f23645"/>
<rect x="546" y="1305" width="1" height="16" fill="#089981"/>
<rect x="544" y="1307" width="5" height="13" fill="#089981"/>
<rect x="553" y="1285" width="1" height="23" fill="#089981"/>
<rect x="551" y="1290" width="5" height="18" fill="#089981"/>
<rect x="561" y="1267" width="1" height="33" fill="#f23645"/>
<rect x="559" y="1290" width="5" height="1" fill="#f23645"/>
<rect x="568" y="1264" width="1" height="58" fill="#f23645"/>
<rect x="566" y="1291" width="5" height="3" fill="#f23645"/>
<rect x="575" y="1254" width="1" height="40" fill="#089981"/>
<rect x="573" y="1268" width="5" height="26" fill="#089981"/>
<rect x="583" y="1250" width="1" height="21" fill="#089981"/>
<rect x="581" y="1258" width="5" height="11" fill="#089981"/>
<rect x="590" y="1245" width="1" height="27" fill="#089981"/>
<rect x="588" y="1246" width="5" height="13" fill="#089981"/>
<rect x="597" y="1200" width="1" height="52" fill="#089981"/>
<rect x="595" y="1201" width="5" height="46" fill="#089981"/>
<rect x="605" y="1179" width="1" height="48" fill="#f23645"/>
<rect x="603" y="1201" width="5" height="3" fill="#f23645"/>
<rect x="612" y="1198" width="1" height="33" fill="#f23645"/>
<rect x="610" y="1203" width="5" height="20" fill="#f23645"/>
<rect x="619" y="1211" width="1" height="17" fill="#f23645"/>
<rect x="617" y="1222" width="5" height="3" fill="#f23645"/>
<rect x="627" y="1204" width="1" height="46" fill="#f23645"/>
<rect x="625" y="1224" width="5" height="24" fill="#f23645"/>
<rect x="634" y="1217" width="1" height="31" fill="#089981"/>
<rect x="632" y="1219" width="5" height="29" fill="#089981"/>
<rect x="641" y="1205" width="1" height="36" fill="#f23645"/>
<rect x="639" y="1219" width="5" height="13" fill="#f23645"/>
<rect x="649" y="1225" width="1" height="36" fill="#f23645"/>
<rect x="647" y="1231" width="5" height="27" fill="#f23645"/>
<rect x="656" y="1251" width="1" height="19" fill="#f23645"/>
<rect x="654" y="1257" width="5" height="7" fill="#f23645"/>
<rect x="663" y="1242" width="1" height="22" fill="#089981"/>
<rect x="661" y="1248" width="5" height="16" fill="#089981"/>
<rect x="671" y="1216" width="1" height="34" fill="#089981"/>
<rect x="669" y="1217" width="5" height="32" fill="#089981"/>
<rect x="678" y="1215" width="1" height="38" fill="#f23645"/>
<rect x="676" y="1217" width="5" height="33" fill="#f23645"/>
<rect x="685" y="1234" width="1" height="16" fill="#089981"/>
<rect x="683" y="1239" width="5" height="11" fill="#089981"/>
<rect x="693" y="1235" width="1" height="35" fill="#f23645"/>
<rect x="691" y="1239" width="5" height="1" fill="#f23645"/>
<rect x="700" y="1234" width="1" height="26" fill="#f23645"/>
<rect x="698" y="1239" width="5" height="14" fill="#f23645"/>
<rect x="707" y="1239" width="1" height="15" fill="#089981"/>
<rect x="705" y="1246" width="5" height="7" fill="#089981"/>
<rect x="715" y="1224" width="1" height="27" fill="#f23645"/>
<rect x="713" y="1246" width="5" height="3" fill="#f23645"/>
<rect x="722" y="1235" width="1" height="18" fill="#089981"/>
<rect x="720" y="1235" width="5" height="14" fill="#089981"/>
<rect x="729" y="1229" width="1" height="17" fill="#f23645"/>
<rect x="727" y="1235" width="5" height="8" fill="#f23645"/>
<rect x="736" y="1202" width="1" height="42" fill="#089981"/>
<rect x="734" y="1217" width="5" height="26" fill="#089981"/>
<rect x="744" y="1180" width="1" height="41" fill="#089981"/>
<rect x="742" y="1210" width="5" height="8" fill="#089981"/>
<rect x="751" y="1196" width="1" height="29" fill="#f23645"/>
<rect x="749" y="1210" width="5" height="11" fill="#f23645"/>
<rect x="758" y="1217" width="1" height="28" fill="#f23645"/>
<rect x="756" y="1220" width="5" height="14" fill="#f23645"/>
<rect x="766" y="1224" width="1" height="17" fill="#f23645"/>
<rect x="764" y="1233" width="5" height="8" fill="#f23645"/>
<rect x="773" y="1239" width="1" height="30" fill="#f23645"/>
<rect x="771" y="1240" width="5" height="11" fill="#f23645"/>
<rect x="780" y="1240" width="1" height="23" fill="#f23645"/>
<rect x="778" y="1250" width="5" height="13" fill="#f23645"/>
<rect x="788" y="1257" width="1" height="27" fill="#f23645"/>
<rect x="786" y="1262" width="5" height="13" fill="#f23645"/>
<rect x="795" y="1258" width="1" height="26" fill="#f23645"/>
<rect x="793" y="1274" width="5" height="7" fill="#f23645"/>
<rect x="802" y="1245" width="1" height="39" fill="#089981"/>
<rect x="800" y="1249" width="5" height="32" fill="#089981"/>
<rect x="810" y="1234" width="1" height="16" fill="#089981"/>
<rect x="808" y="1236" width="5" height="14" fill="#089981"/>
<rect x="817" y="1208" width="1" height="29" fill="#089981"/>
<rect x="815" y="1212" width="5" height="25" fill="#089981"/>
<rect x="824" y="1205" width="1" height="36" fill="#f23645"/>
<rect x="822" y="1212" width="5" height="25" fill="#f23645"/>
<rect x="832" y="1194" width="1" height="46" fill="#089981"/>
<rect x="830" y="1203" width="5" height="34" fill="#089981"/>
<rect x="839" y="1185" width="1" height="22" fill="#089981"/>
<rect x="837" y="1198" width="5" height="6" fill="#089981"/>
<rect x="846" y="1181" width="1" height="31" fill="#f23645"/>
<rect x="844" y="1198" width="5" height="8" fill="#f23645"/>
<rect x="854" y="1200" width="1" height="20" fill="#f23645"/>
<rect x="852" y="1205" width="5" height="10" fill="#f23645"/>
<rect x="861" y="1199" width="1" height="19" fill="#089981"/>
<rect x="859" y="1204" width="5" height="11" fill="#089981"/>
<rect x="868" y="1204" width="1" height="18" fill="#f23645"/>
<rect x="866" y="1204" width="5" height="7" fill="#f23645"/>
<rect x="876" y="1207" width="1" height="25" fill="#f23645"/>
<rect x="874" y="1210" width="5" height="22" fill="#f23645"/>
<rect x="883" y="1194" width="1" height="45" fill="#089981"/>
<rect x="881" y="1200" width="5" height="32" fill="#089981"/>
<rect x="890" y="1184" width="1" height="28" fill="#089981"/>
<rect x="888" y="1188" width="5" height="13" fill="#089981"/>
<rect x="898" y="1162" width="1" height="40" fill="#089981"/>
<rect x="896" y="1182" width="5" height="7" fill="#089981"/>
<rect x="905" y="1178" width="1" height="18" fill="#f23645"/>
<rect x="903" y="1182" width="5" height="6" fill="#f23645"/>
<rect x="912" y="1181" width="1" height="19" fill="#089981"/>
<rect x="910" y="1186" width="5" height="2" fill="#089981"/>
<rect x="919" y="1142" width="1" height="44" fill="#089981"/>
<rect x="917" y="1142" width="5" height="44" fill="#089981"/>
<rect x="927" y="1097" width="1" height="47" fill="#089981"/>
<rect x="925" y="1130" width="5" height="13" fill="#089981"/>
<rect x="934" y="1093" width="1" height="39" fill="#089981"/>
<rect x="932" y="1121" width="5" height="10" fill="#089981"/>
<rect x="941" y="1107" width="1" height="23" fill="#f23645"/>
<rect x="939" y="1121" width="5" height="1" fill="#f23645"/>
<rect x="949" y="1085" width="1" height="38" fill="#089981"/>
<rect x="947" y="1093" width="5" height="30" fill="#089981"/>
<rect x="956" y="1074" width="1" height="38" fill="#089981"/>
<rect x="954" y="1080" width="5" height="14" fill="#089981"/>
<rect x="963" y="1039" width="1" height="49" fill="#089981"/>
<rect x="961" y="1050" width="5" height="32" fill="#089981"/>
<rect x="971" y="1015" width="1" height="42" fill="#089981"/>
<rect x="969" y="1025" width="5" height="27" fill="#089981"/>
<rect x="978" y="1021" width="1" height="52" fill="#f23645"/>
<rect x="976" y="1025" width="5" height="23" fill="#f23645"/>
<rect x="985" y="1029" width="1" height="33" fill="#f23645"/>
<rect x="983" y="1047" width="5" height="7" fill="#f23645"/>
<rect x="993" y="1008" width="1" height="47" fill="#089981"/>
<rect x="991" y="1013" width="5" height="41" fill="#089981"/>
<rect x="1000" y="977" width="1" height="42" fill="#089981"/>
<rect x="998" y="999" width="5" height="14" fill="#089981"/>
<rect x="1007" y="937" width="1" height="61" fill="#089981"/>
<rect x="1005" y="938" width="5" height="58" fill="#089981"/>
<rect x="1015" y="852" width="1" height="125" fill="#089981"/>
<rect x="1013" y="900" width="5" height="39" fill="#089981"/>
<rect x="1022" y="878" width="1" height="42" fill="#089981"/>
<rect x="1020" y="880" width="5" height="22" fill="#089981"/>
</g>
<line x1="12" y1="880.5" x2="1334" y2="880.5" stroke="#089981" stroke-width="1" stroke-dasharray="1,2"/>
<g transform="translate(23.8,1430.8) scale(1.02)" fill="#000000" stroke="#fff" stroke-width="5.5" paint-order="stroke" stroke-linejoin="round"><path d="M14 22H7V11H0V4h14v18z"/><path d="M28 22h-8l7.5-18h8L28 22z"/><circle cx="20" cy="8" r="4"/></g>
<text x="70.2" y="1453.2" font-size="25.5" fill="#000000" font-weight="bold" text-anchor="start" font-family="'Liberation Sans', Arial, sans-serif" textLength="150.5" lengthAdjust="spacingAndGlyphs" stroke="#fff" stroke-width="5.6" paint-order="stroke" stroke-linejoin="round">TradingView</text>
<g clip-path="url(#axis)">
<text x="1407.6" y="1428.7" font-size="14.5" fill="#000000" font-weight="normal" text-anchor="end" font-family="'Liberation Sans', Arial, sans-serif" textLength="62.4" lengthAdjust="spacingAndGlyphs">1 000,000</text>
<text x="1407.6" y="1382.7" font-size="14.5" fill="#000000" font-weight="normal" text-anchor="end" font-family="'Liberation Sans', Arial, sans-serif" textLength="62.4" lengthAdjust="spacingAndGlyphs">1 200,000</text>
<text x="1407.6" y="1337.7" font-size="14.5" fill="#000000" font-weight="normal" text-anchor="end" font-family="'Liberation Sans', Arial, sans-serif" textLength="62.4" lengthAdjust="spacingAndGlyphs">1 400,000</text>
<text x="1407.6" y="1291.7" font-size="14.5" fill="#000000" font-weight="normal" text-anchor="end" font-family="'Liberation Sans', Arial, sans-serif" textLength="62.4" lengthAdjust="spacingAndGlyphs">1 600,000</text>
<text x="1407.6" y="1245.7" font-size="14.5" fill="#000000" font-weight="normal" text-anchor="end" font-family="'Liberation Sans', Arial, sans-serif" textLength="62.4" lengthAdjust="spacingAndGlyphs">1 800,000</text>
<text x="1407.6" y="1199.7" font-size="14.5" fill="#000000" font-weight="normal" text-anchor="end" font-family="'Liberation Sans', Arial, sans-serif" textLength="62.4" lengthAdjust="spacingAndGlyphs">2 000,000</text>
<text x="1407.6" y="1153.7" font-size="14.5" fill="#000000" font-weight="normal" text-anchor="end" font-family="'Liberation Sans', Arial, sans-serif" textLength="62.4" lengthAdjust="spacingAndGlyphs">2 200,000</text>
<text x="1407.6" y="1107.7" font-size="14.5" fill="#000000" font-weight="normal" text-anchor="end" font-family="'Liberation Sans', Arial, sans-serif" textLength="62.4" lengthAdjust="spacingAndGlyphs">2 400,000</text>
<text x="1407.6" y="1061.7" font-size="14.5" fill="#000000" font-weight="normal" text-anchor="end" font-family="'Liberation Sans', Arial, sans-serif" textLength="62.4" lengthAdjust="spacingAndGlyphs">2 600,000</text>
<text x="1407.6" y="1015.7" font-size="14.5" fill="#000000" font-weight="normal" text-anchor="end" font-family="'Liberation Sans', Arial, sans-serif" textLength="62.4" lengthAdjust="spacingAndGlyphs">2 800,000</text>
<text x="1407.6" y="970.7" font-size="14.5" fill="#000000" font-weight="normal" text-anchor="end" font-family="'Liberation Sans', Arial, sans-serif" textLength="62.4" lengthAdjust="spacingAndGlyphs">3 000,000</text>
<text x="1407.6" y="924.7" font-size="14.5" fill="#000000" font-weight="normal" text-anchor="end" font-family="'Liberation Sans', Arial, sans-serif" textLength="62.4" lengthAdjust="spacingAndGlyphs">3 200,000</text>
<text x="1407.6" y="878.7" font-size="14.5" fill="#000000" font-weight="normal" text-anchor="end" font-family="'Liberation Sans', Arial, sans-serif" textLength="62.4" lengthAdjust="spacingAndGlyphs">3 400,000</text>
<text x="1407.6" y="832.7" font-size="14.5" fill="#000000" font-weight="normal" text-anchor="end" font-family="'Liberation Sans', Arial, sans-serif" textLength="62.4" lengthAdjust="spacingAndGlyphs">3 600,000</text>
<text x="1407.6" y="786.7" font-size="14.5" fill="#000000" font-weight="normal" text-anchor="end" font-family="'Liberation Sans', Arial, sans-serif" textLength="62.4" lengthAdjust="spacingAndGlyphs">3 800,000</text>
</g>
<rect x="1335" y="870" width="76" height="39.2" fill="#089981"/>
<text x="1346.1" y="884.7" font-size="14.5" fill="#fff" font-weight="normal" text-anchor="start" font-family="'Liberation Sans', Arial, sans-serif" textLength="62.9" lengthAdjust="spacingAndGlyphs">3 375,300</text>
<text x="1346.1" y="902.7" font-size="14.5" fill="#bfe6df" font-weight="normal" text-anchor="start" font-family="'Liberation Sans', Arial, sans-serif" textLength="44.2" lengthAdjust="spacingAndGlyphs">24d 9h</text>
<rect x="1335" y="1441" width="58.7" height="20.5" rx="1.5" fill="#22ab94"/>
<text x="1347" y="1455.5" font-size="14.5" fill="#fff" font-weight="bold" text-anchor="start" font-family="'Liberation Sans', Arial, sans-serif" textLength="41.4" lengthAdjust="spacingAndGlyphs">1,79 M</text>
<text x="26.9" y="1493.8" font-size="14.5" fill="#000000" font-weight="bold" text-anchor="middle" font-family="'Liberation Sans', Arial, sans-serif" textLength="34.2" lengthAdjust="spacingAndGlyphs">2014</text>
<text x="114.9" y="1493.8" font-size="14.5" fill="#000000" font-weight="bold" text-anchor="middle" font-family="'Liberation Sans', Arial, sans-serif" textLength="34.2" lengthAdjust="spacingAndGlyphs">2015</text>
<text x="202.9" y="1493.8" font-size="14.5" fill="#000000" font-weight="bold" text-anchor="middle" font-family="'Liberation Sans', Arial, sans-serif" textLength="34.2" lengthAdjust="spacingAndGlyphs">2016</text>
<text x="290.9" y="1493.8" font-size="14.5" fill="#000000" font-weight="bold" text-anchor="middle" font-family="'Liberation Sans', Arial, sans-serif" textLength="34.2" lengthAdjust="spacingAndGlyphs">2017</text>
<text x="378.9" y="1493.8" font-size="14.5" fill="#000000" font-weight="bold" text-anchor="middle" font-family="'Liberation Sans', Arial, sans-serif" textLength="34.2" lengthAdjust="spacingAndGlyphs">2018</text>
<text x="466.9" y="1493.8" font-size="14.5" fill="#000000" font-weight="bold" text-anchor="middle" font-family="'Liberation Sans', Arial, sans-serif" textLength="34.2" lengthAdjust="spacingAndGlyphs">2019</text>
<text x="553.9" y="1493.8" font-size="14.5" fill="#000000" font-weight="bold" text-anchor="middle" font-family="'Liberation Sans', Arial, sans-serif" textLength="34.2" lengthAdjust="spacingAndGlyphs">2020</text>
<text x="641.9" y="1493.8" font-size="14.5" fill="#000000" font-weight="bold" text-anchor="middle" font-family="'Liberation Sans', Arial, sans-serif" textLength="34.2" lengthAdjust="spacingAndGlyphs">2021</text>
<text x="729.9" y="1493.8" font-size="14.5" fill="#000000" font-weight="bold" text-anchor="middle" font-family="'Liberation Sans', Arial, sans-serif" textLength="34.2" lengthAdjust="spacingAndGlyphs">2022</text>
<text x="817.9" y="1493.8" font-size="14.5" fill="#000000" font-weight="bold" text-anchor="middle" font-family="'Liberation Sans', Arial, sans-serif" textLength="34.2" lengthAdjust="spacingAndGlyphs">2023</text>
<text x="905.9" y="1493.8" font-size="14.5" fill="#000000" font-weight="bold" text-anchor="middle" font-family="'Liberation Sans', Arial, sans-serif" textLength="34.2" lengthAdjust="spacingAndGlyphs">2024</text>
<text x="993.9" y="1493.8" font-size="14.5" fill="#000000" font-weight="bold" text-anchor="middle" font-family="'Liberation Sans', Arial, sans-serif" textLength="34.2" lengthAdjust="spacingAndGlyphs">2025</text>
<text x="1081.4" y="1493.8" font-size="14.5" fill="#000000" font-weight="bold" text-anchor="middle" font-family="'Liberation Sans', Arial, sans-serif" textLength="34.2" lengthAdjust="spacingAndGlyphs">2026</text>
<text x="1168.9" y="1493.8" font-size="14.5" fill="#000000" font-weight="bold" text-anchor="middle" font-family="'Liberation Sans', Arial, sans-serif" textLength="34.2" lengthAdjust="spacingAndGlyphs">2027</text>
<text x="1256.9" y="1493.8" font-size="14.5" fill="#000000" font-weight="bold" text-anchor="middle" font-family="'Liberation Sans', Arial, sans-serif" textLength="34.2" lengthAdjust="spacingAndGlyphs">2028</text>
<g fill="none" stroke="#000000" stroke-width="1.2"><path d="M1373.4 1481.6 H1383 L1387.4 1489 L1383 1496.4 H1373.4 L1369 1489 Z"/><circle cx="1378.2" cy="1489" r="2.6"/></g>
<line x1="10" y1="1505.5" x2="1411" y2="1505.5" stroke="#e0e3eb" stroke-width="1"/>
<text x="26.7" y="1536.3" font-size="18" fill="#000000" font-weight="normal" text-anchor="start" font-family="'Liberation Sans', Arial, sans-serif" textLength="19.6" lengthAdjust="spacingAndGlyphs">1D</text>
<text x="62" y="1536.3" font-size="18" fill="#000000" font-weight="normal" text-anchor="start" font-family="'Liberation Sans', Arial, sans-serif" textLength="18.9" lengthAdjust="spacingAndGlyphs">5D</text>
<text x="97.2" y="1536.3" font-size="18" fill="#000000" font-weight="normal" text-anchor="start" font-family="'Liberation Sans', Arial, sans-serif" textLength="20.8" lengthAdjust="spacingAndGlyphs">1M</text>
<text x="133.7" y="1536.3" font-size="18" fill="#000000" font-weight="normal" text-anchor="start" font-family="'Liberation Sans', Arial, sans-serif" textLength="21.2" lengthAdjust="spacingAndGlyphs">3M</text>
<text x="169.5" y="1536.3" font-size="18" fill="#000000" font-weight="normal" text-anchor="start" font-family="'Liberation Sans', Arial, sans-serif" textLength="22.2" lengthAdjust="spacingAndGlyphs">6M</text>
<text x="206.4" y="1536.3" font-size="18" fill="#000000" font-weight="normal" text-anchor="start" font-family="'Liberation Sans', Arial, sans-serif" textLength="30" lengthAdjust="spacingAndGlyphs">YTD</text>
<text x="252.7" y="1536.3" font-size="18" fill="#000000" font-weight="normal" text-anchor="start" font-family="'Liberation Sans', Arial, sans-serif" textLength="18.6" lengthAdjust="spacingAndGlyphs">1R</text>
<text x="286.9" y="1536.3" font-size="18" fill="#000000" font-weight="normal" text-anchor="start" font-family="'Liberation Sans', Arial, sans-serif" textLength="17.3" lengthAdjust="spacingAndGlyphs">5L</text>
<text x="320.2" y="1536.3" font-size="18" fill="#000000" font-weight="normal" text-anchor="start" font-family="'Liberation Sans', Arial, sans-serif" textLength="70.1" lengthAdjust="spacingAndGlyphs">Wszystko</text>
<line x1="403.6" y1="1516.7" x2="403.6" y2="1543.5" stroke="#e0e3eb" stroke-width="1"/>
<g fill="none" stroke="#000000" stroke-width="1.2"><path d="M422.7 1527.7 V1523 Q422.7 1520.2 425.5 1520.2 H441.2 Q444 1520.2 444 1523 V1536.1 Q444 1538.9 441.2 1538.9 H433.8"/><path d="M422.7 1525.1 H444"/><path d="M429.1 1517.4 V1521.6 M437.8 1517.4 V1521.6" stroke-width="1.4"/><path d="M421.2 1535.1 H430.2 M426.1 1531 L430.3 1535.1 L426.1 1539.2"/></g>
<text x="1408" y="1535.7" font-size="17.5" fill="#000000" font-weight="normal" text-anchor="end" font-family="'Liberation Sans', Arial, sans-serif" textLength="122.1" lengthAdjust="spacingAndGlyphs">14:09:06 UTC+2</text>
<circle cx="31.45" cy="803.05" r="11.35" fill="#d89c0f"/>
<g fill="#fff"><path d="M26.9 800.6 H34 L32.5 797.6 H28.4 Z"/><path d="M22.9 805.9 H30.6 L29 801.6 H24.5 Z"/><path d="M31.6 805.9 H39.5 L37.9 801.6 H33.3 Z"/></g>
<text x="47.7" y="810.6" font-size="18.5" fill="#000000" font-weight="normal" text-anchor="start" font-family="'Liberation Sans', Arial, sans-serif" textLength="45.9" lengthAdjust="spacingAndGlyphs">Złoto</text>
<text x="105.65" y="810.6" font-size="18.5" fill="#000000" font-weight="normal" text-anchor="middle" font-family="'Liberation Sans', Arial, sans-serif">/</text>
<text x="117.2" y="810.6" font-size="18.5" fill="#000000" font-weight="normal" text-anchor="start" font-family="'Liberation Sans', Arial, sans-serif" textLength="87.0" lengthAdjust="spacingAndGlyphs">Dolar USA</text>
<text x="211.0" y="810.6" font-size="18.5" fill="#000000" font-weight="bold" text-anchor="middle" font-family="'Liberation Sans', Arial, sans-serif">·</text>
<text x="219.8" y="810.6" font-size="18.5" fill="#000000" font-weight="normal" text-anchor="start" font-family="'Liberation Sans', Arial, sans-serif" textLength="24.1" lengthAdjust="spacingAndGlyphs">1M</text>
<text x="251.35" y="810.6" font-size="18.5" fill="#000000" font-weight="bold" text-anchor="middle" font-family="'Liberation Sans', Arial, sans-serif">·</text>
<text x="258.9" y="810.6" font-size="18.5" fill="#000000" font-weight="normal" text-anchor="start" font-family="'Liberation Sans', Arial, sans-serif" textLength="61.5" lengthAdjust="spacingAndGlyphs">OANDA</text>
<path d="M351.3 792 H365 V814 H351.3 A11 11 0 0 1 351.3 792 Z" fill="#daf1ec"/>
<path d="M365 792 H378.9 A11 11 0 0 1 378.9 814 H365 Z" fill="#e91e63" fill-opacity="0.38"/>
<circle cx="352.9" cy="802.9" r="5" fill="#089981"/>
<text x="375.7" y="809.6" font-size="21" fill="#e0115a" font-weight="normal" text-anchor="middle" font-family="'Liberation Sans', Arial, sans-serif">≈</text>
<text x="409.7" y="809.1" font-size="14.5" fill="#000000" font-weight="normal" text-anchor="start" font-family="'Liberation Sans', Arial, sans-serif" textLength="9.4" lengthAdjust="spacingAndGlyphs">O</text>
<text x="421.5" y="809.1" font-size="14.5" fill="#089981" font-weight="normal" text-anchor="start" font-family="'Liberation Sans', Arial, sans-serif" textLength="68.1" lengthAdjust="spacingAndGlyphs">3 285,630</text>
<text x="498.3" y="809.1" font-size="14.5" fill="#000000" font-weight="normal" text-anchor="start" font-family="'Liberation Sans', Arial, sans-serif" textLength="8.7" lengthAdjust="spacingAndGlyphs">H</text>
<text x="509.4" y="809.1" font-size="14.5" fill="#089981" font-weight="normal" text-anchor="start" font-family="'Liberation Sans', Arial, sans-serif" textLength="67" lengthAdjust="spacingAndGlyphs">3 387,015</text>
<text x="585" y="809.1" font-size="14.5" fill="#000000" font-weight="normal" text-anchor="start" font-family="'Liberation Sans', Arial, sans-serif" textLength="7.7" lengthAdjust="spacingAndGlyphs">L</text>
<text x="594.4" y="809.1" font-size="14.5" fill="#089981" font-weight="normal" text-anchor="start" font-family="'Liberation Sans', Arial, sans-serif" textLength="66.7" lengthAdjust="spacingAndGlyphs">3 201,955</text>
<text x="670.1" y="809.1" font-size="14.5" fill="#000000" font-weight="normal" text-anchor="start" font-family="'Liberation Sans', Arial, sans-serif" textLength="8.7" lengthAdjust="spacingAndGlyphs">C</text>
<text x="680.6" y="809.1" font-size="14.5" fill="#089981" font-weight="normal" text-anchor="start" font-family="'Liberation Sans', Arial, sans-serif" textLength="67.7" lengthAdjust="spacingAndGlyphs">3 375,300</text>
<text x="757.6" y="809.1" font-size="14.5" fill="#089981" font-weight="normal" text-anchor="start" font-family="'Liberation Sans', Arial, sans-serif" textLength="121.6" lengthAdjust="spacingAndGlyphs">+87,145 (+2,65%)</text>
<rect x="19.8" y="823.7" width="93.4" height="41.6" rx="5" fill="#fff" stroke="#f23645" stroke-width="1"/>
<text x="33.8" y="841.4" font-size="13.5" fill="#f23645" font-weight="bold" text-anchor="start" font-family="'Liberation Sans', Arial, sans-serif" textLength="58.5" lengthAdjust="spacingAndGlyphs">3 375,36</text>
<text x="94" y="839.7" font-size="12.5" fill="#f23645" font-weight="normal" text-anchor="start" font-family="'Liberation Sans', Arial, sans-serif" textLength="6.3" lengthAdjust="spacingAndGlyphs">0</text>
<text x="34.4" y="858.8" font-size="12.5" fill="#f23645" font-weight="normal" text-anchor="start" font-family="'Liberation Sans', Arial, sans-serif" textLength="63.1" lengthAdjust="spacingAndGlyphs">SPRZEDAJ</text>
<text x="124.4" y="847.9" font-size="12" fill="#000000" font-weight="normal" text-anchor="start" font-family="'Liberation Sans', Arial, sans-serif" textLength="23.4" lengthAdjust="spacingAndGlyphs">72,0</text>
<rect x="158.8" y="823.7" width="93.7" height="41.6" rx="5" fill="#fff" stroke="#2962ff" stroke-width="1"/>
<text x="172.7" y="841.4" font-size="13.5" fill="#2962ff" font-weight="bold" text-anchor="start" font-family="'Liberation Sans', Arial, sans-serif" textLength="58.5" lengthAdjust="spacingAndGlyphs">3 376,08</text>
<text x="233.4" y="839.7" font-size="12.5" fill="#2962ff" font-weight="normal" text-anchor="start" font-family="'Liberation Sans', Arial, sans-serif" textLength="6.3" lengthAdjust="spacingAndGlyphs">0</text>
<text x="193" y="858.8" font-size="12.5" fill="#2962ff" font-weight="normal" text-anchor="start" font-family="'Liberation Sans', Arial, sans-serif" textLength="24.6" lengthAdjust="spacingAndGlyphs">KUP</text>
<text x="20.8" y="890.7" font-size="15" fill="#222" font-weight="normal" text-anchor="start" font-family="'Liberation Sans', Arial, sans-serif" textLength="106.8" lengthAdjust="spacingAndGlyphs">Wolumen · Tiki</text>
<text x="139" y="890.7" font-size="15" fill="#22ab94" font-weight="normal" text-anchor="start" font-family="'Liberation Sans', Arial, sans-serif" textLength="45.3" lengthAdjust="spacingAndGlyphs">1,79 M</text>
<rect x="17.7" y="904.9" width="33.4" height="24.6" rx="3" fill="#fff" stroke="#d1d4dc" stroke-width="1"/>
<polyline points="30.6,919.5 34.7,915.4 38.8,919.5" fill="none" stroke="#000000" stroke-width="1.3"/>
</svg>
</body></html>
